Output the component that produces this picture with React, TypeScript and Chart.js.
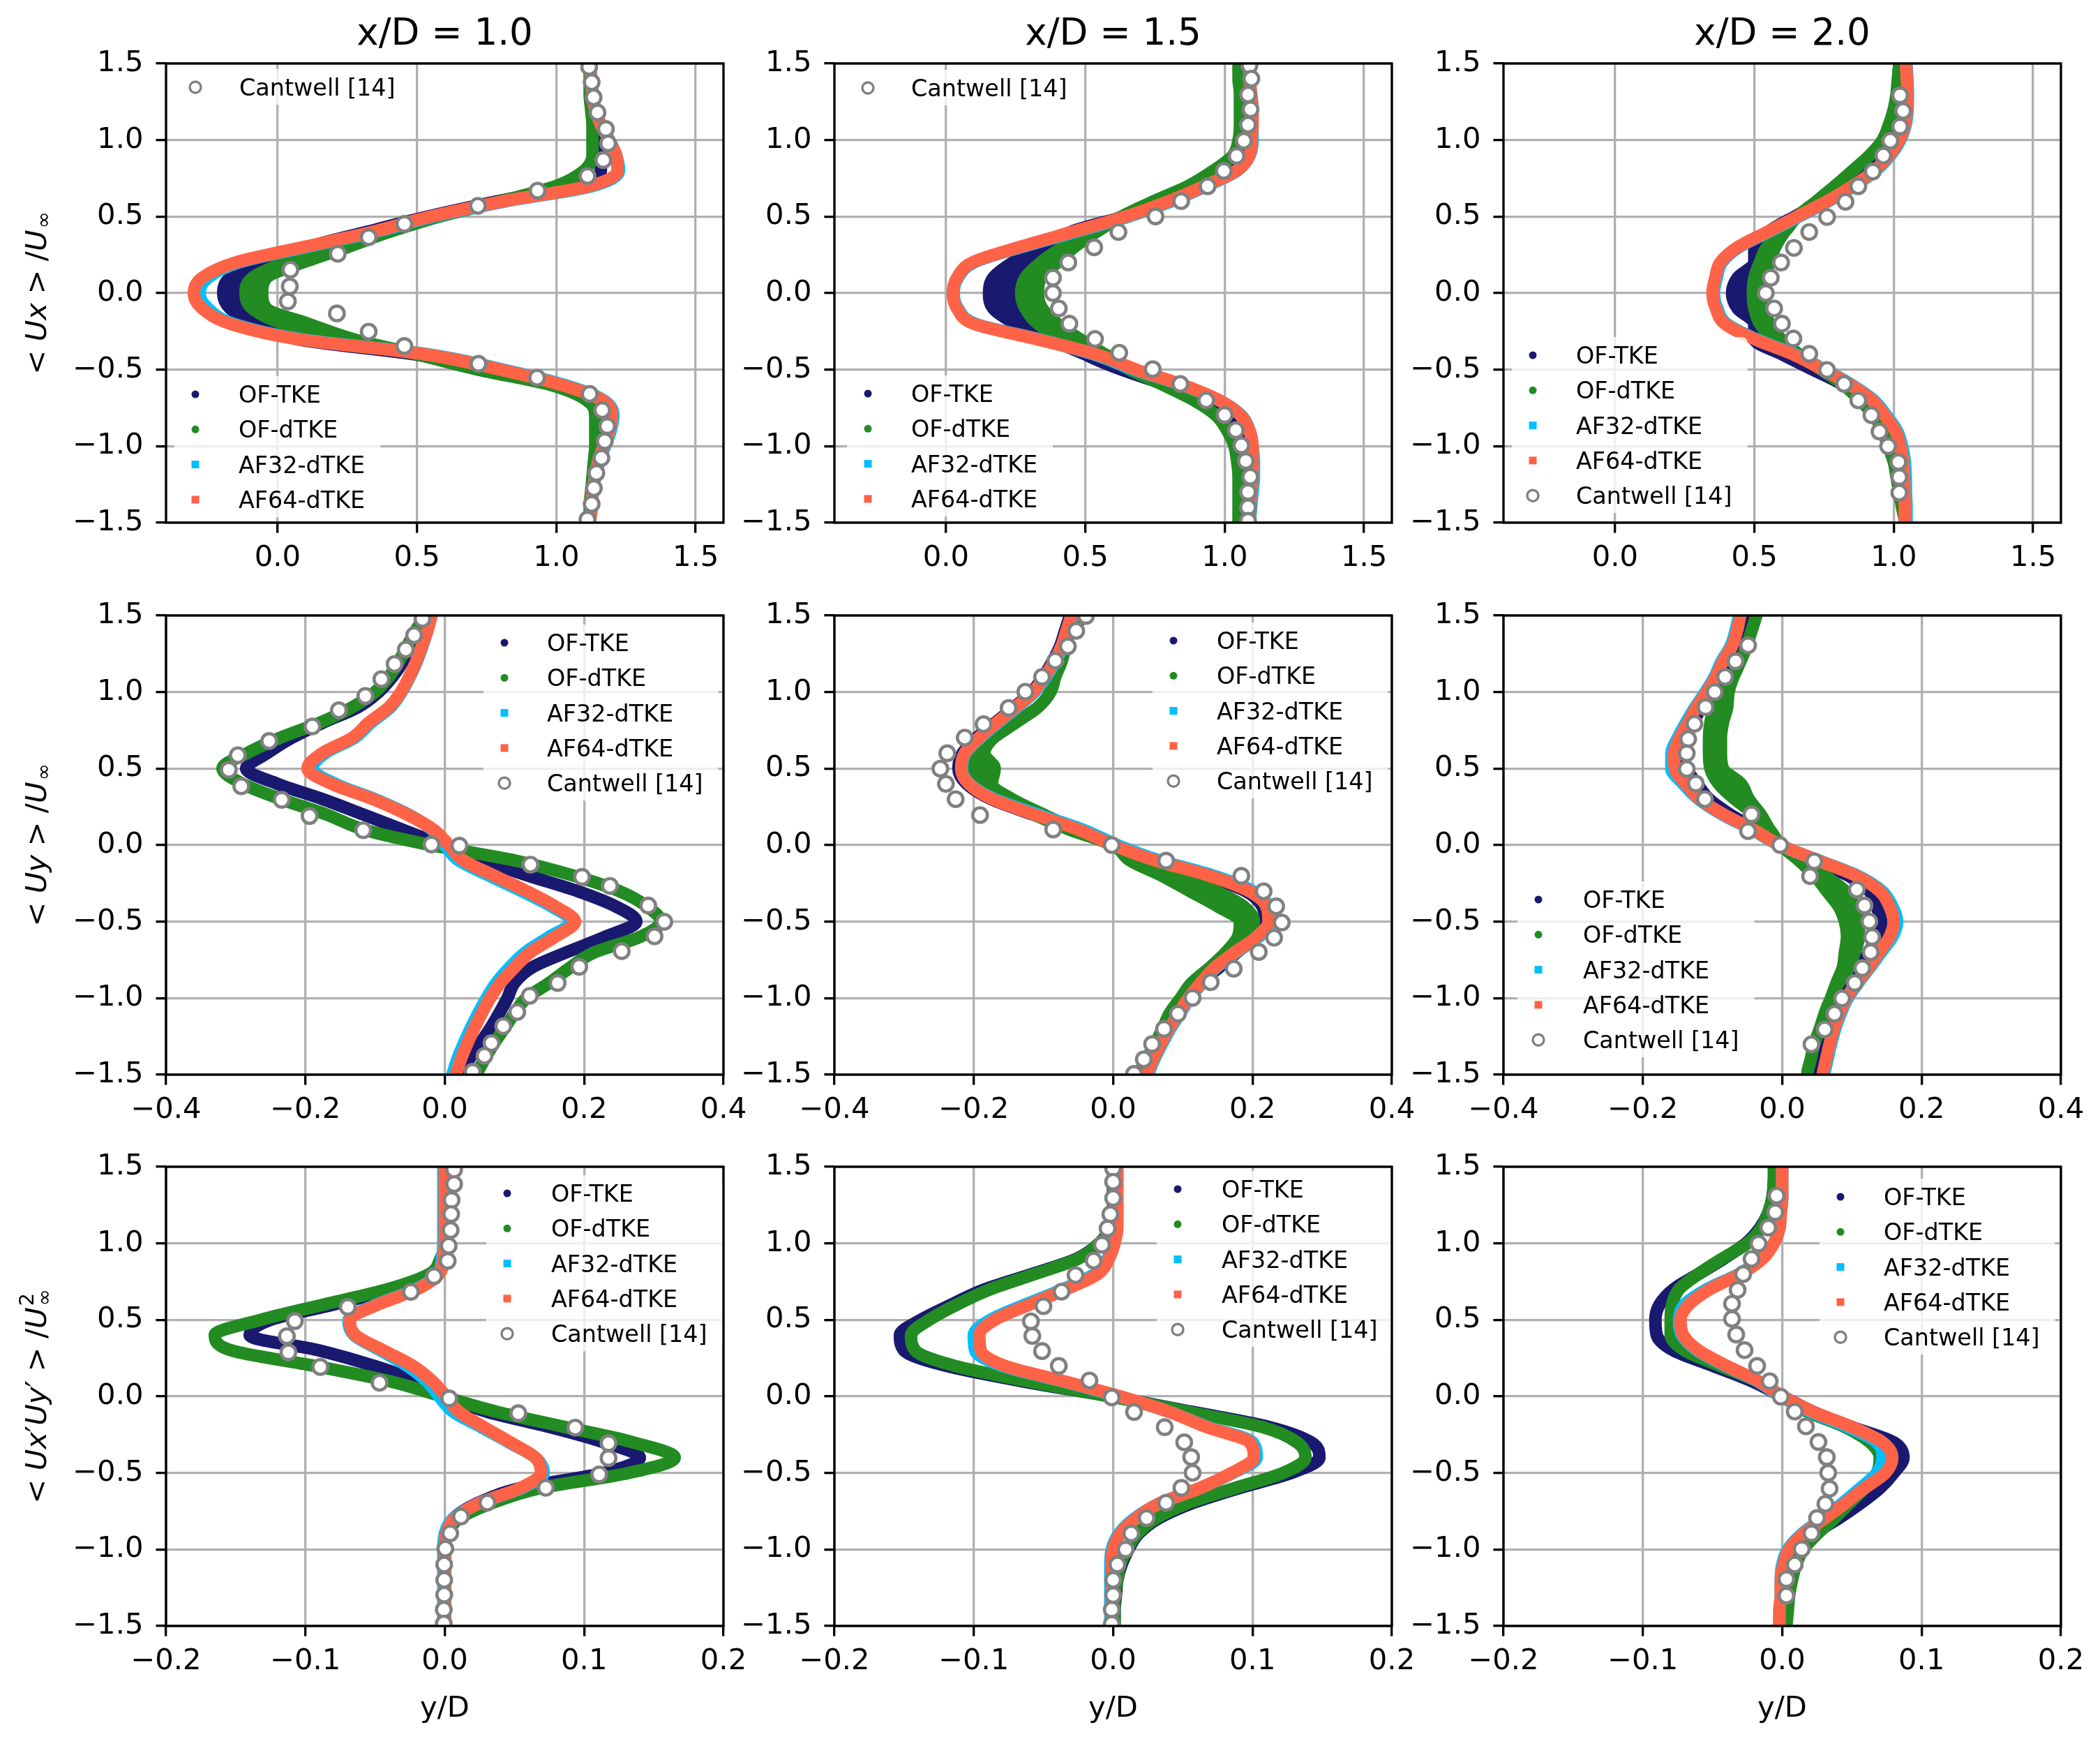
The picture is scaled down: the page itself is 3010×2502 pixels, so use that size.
import React, { useEffect, useRef } from 'react';
import { Chart, registerables } from 'chart.js';

Chart.register(...registerables);

// ---------------- data ----------------
const Y = [1.5, 1.4, 1.3, 1.2, 1.1, 1.0, 0.9, 0.8, 0.7, 0.6, 0.5, 0.4, 0.3, 0.2, 0.1, 0, -0.1, -0.2, -0.3, -0.4, -0.5, -0.6, -0.7, -0.8, -0.9, -1.0, -1.1, -1.2, -1.3, -1.4, -1.5];

const Y_TICKS = [-1.5, -1.0, -0.5, 0.0, 0.5, 1.0, 1.5];
const X_TICKS_UX = [0.0, 0.5, 1.0, 1.5];
const X_TICKS_UY = [-0.4, -0.2, 0.0, 0.2, 0.4];
const X_TICKS_UU = [-0.2, -0.1, 0.0, 0.1, 0.2];
const COL_TITLES = ['x/D = 1.0', 'x/D = 1.5', 'x/D = 2.0'];
const SERIES_LABELS = { tke: 'OF-TKE', dtke: 'OF-dTKE', af32: 'AF32-dTKE', af64: 'AF64-dTKE', cw: 'Cantwell [14]' };

// <Ux>/U, x/D = 1.0
const UX10_TKE = [1.12, 1.125, 1.13, 1.135, 1.14, 1.15, 1.16, 1.16, 1.06, 0.79, 0.54, 0.32, 0.11, -0.06, -0.17, -0.195, -0.17, -0.08, 0.07, 0.49, 0.76, 1.00, 1.13, 1.16, 1.16, 1.155, 1.15, 1.14, 1.13, 1.125, 1.12];
const UX10_TKE_HI = [null, null, null, null, null, null, null, null, null, null, null, null, null, 0.0, -0.10, -0.12, -0.10, -0.01, null, null, null, null, null, null, null, null, null, null, null, null, null];
const UX10_DTKE = [1.12, 1.12, 1.12, 1.125, 1.13, 1.13, 1.13, 1.10, 1.00, 0.80, 0.58, 0.40, 0.22, 0.03, -0.09, -0.115, -0.09, 0.02, 0.24, 0.50, 0.72, 0.98, 1.11, 1.14, 1.14, 1.14, 1.135, 1.13, 1.125, 1.12, 1.12];
const UX10_DTKE_HI = [null, null, null, null, null, null, null, null, null, null, null, null, 0.25, 0.09, -0.04, -0.055, -0.04, 0.11, 0.27, null, null, null, null, null, null, null, null, null, null, null, null];
const UX10_AF32 = [1.12, 1.125, 1.13, 1.14, 1.16, 1.19, 1.215, 1.225, 1.13, 0.82, 0.56, 0.35, 0.10, -0.14, -0.25, -0.28, -0.25, -0.16, 0.08, 0.54, 0.81, 1.03, 1.17, 1.205, 1.195, 1.175, 1.155, 1.14, 1.13, 1.127, 1.12];
const UX10_AF64 = [1.12, 1.125, 1.13, 1.14, 1.16, 1.19, 1.215, 1.22, 1.12, 0.81, 0.55, 0.34, 0.09, -0.15, -0.27, -0.30, -0.27, -0.17, 0.07, 0.53, 0.80, 1.02, 1.165, 1.20, 1.19, 1.17, 1.15, 1.14, 1.13, 1.127, 1.12];
const UX10_CW_X = [1.118, 1.127, 1.134, 1.148, 1.178, 1.186, 1.169, 1.112, 0.933, 0.719, 0.455, 0.327, 0.216, 0.046, 0.044, 0.037, 0.213, 0.327, 0.455, 0.721, 0.931, 1.120, 1.165, 1.183, 1.174, 1.162, 1.144, 1.135, 1.127, 1.112];
const UX10_CW_Y = [1.477, 1.378, 1.279, 1.180, 1.072, 0.978, 0.869, 0.765, 0.669, 0.570, 0.452, 0.365, 0.257, 0.153, 0.044, -0.054, -0.133, -0.252, -0.346, -0.462, -0.553, -0.659, -0.765, -0.869, -0.968, -1.077, -1.175, -1.274, -1.378, -1.479];

// <Ux>/U, x/D = 1.5
const UX15_TKE = [1.065, 1.065, 1.065, 1.065, 1.065, 1.06, 1.04, 0.98, 0.89, 0.78, 0.64, 0.45, 0.34, 0.24, 0.17, 0.155, 0.17, 0.25, 0.37, 0.50, 0.63, 0.79, 0.92, 1.00, 1.04, 1.06, 1.065, 1.065, 1.065, 1.065, 1.065];
const UX15_TKE_HI = [null, null, null, null, null, null, null, null, null, null, null, null, 0.40, 0.32, 0.27, 0.26, 0.27, 0.33, 0.42, null, null, null, null, null, null, null, null, null, null, null, null];
const UX15_DTKE = [1.05, 1.05, 1.055, 1.055, 1.055, 1.05, 1.03, 0.96, 0.87, 0.745, 0.63, 0.52, 0.42, 0.34, 0.285, 0.27, 0.285, 0.33, 0.42, 0.57, 0.66, 0.78, 0.89, 0.97, 1.01, 1.035, 1.045, 1.05, 1.05, 1.05, 1.05];
const UX15_DTKE_HI = [null, null, null, null, null, null, null, null, null, null, null, 0.54, 0.46, 0.40, 0.34, 0.33, 0.345, 0.40, 0.48, null, null, null, null, null, null, null, null, null, null, null, null];
const UX15_AF32 = [1.09, 1.09, 1.095, 1.10, 1.10, 1.10, 1.09, 1.045, 0.935, 0.81, 0.655, 0.465, 0.27, 0.10, 0.043, 0.028, 0.043, 0.105, 0.33, 0.53, 0.675, 0.845, 0.98, 1.06, 1.09, 1.10, 1.105, 1.105, 1.10, 1.095, 1.09];
const UX15_AF64 = [1.09, 1.09, 1.095, 1.10, 1.10, 1.096, 1.089, 1.043, 0.928, 0.80, 0.645, 0.454, 0.263, 0.095, 0.04, 0.025, 0.04, 0.10, 0.324, 0.54, 0.683, 0.85, 0.98, 1.058, 1.089, 1.10, 1.10, 1.10, 1.095, 1.09, 1.09];
const UX15_CW_X = [1.089, 1.096, 1.084, 1.093, 1.084, 1.069, 1.043, 0.997, 0.939, 0.844, 0.752, 0.619, 0.532, 0.439, 0.384, 0.384, 0.405, 0.443, 0.535, 0.622, 0.742, 0.841, 0.934, 1.000, 1.040, 1.060, 1.076, 1.092, 1.084, 1.084, 1.084];
const UX15_CW_Y = [1.487, 1.401, 1.297, 1.200, 1.100, 0.995, 0.896, 0.798, 0.698, 0.601, 0.501, 0.399, 0.299, 0.200, 0.100, 0.000, -0.100, -0.200, -0.300, -0.390, -0.497, -0.594, -0.701, -0.796, -0.896, -0.995, -1.097, -1.200, -1.300, -1.400, -1.488];

// <Ux>/U, x/D = 2.0
const UX20_TKE = [1.04, 1.04, 1.04, 1.035, 1.025, 1.0, 0.965, 0.91, 0.84, 0.75, 0.645, 0.55, 0.50, 0.50, 0.44, 0.42, 0.44, 0.50, 0.50, 0.60, 0.71, 0.82, 0.90, 0.95, 0.99, 1.01, 1.025, 1.03, 1.035, 1.04, 1.04];
const UX20_TKE_HI = [null, null, null, null, null, null, null, null, null, null, null, null, null, 0.54, 0.49, 0.47, 0.49, 0.54, null, null, null, null, null, null, null, null, null, null, null, null, null];
const UX20_DTKE = [1.02, 1.015, 1.01, 1.0, 0.983, 0.96, 0.914, 0.853, 0.79, 0.723, 0.654, 0.608, 0.545, 0.52, 0.50, 0.495, 0.50, 0.52, 0.57, 0.66, 0.74, 0.82, 0.88, 0.93, 0.96, 0.98, 1.0, 1.01, 1.02, 1.03, 1.04];
const UX20_DTKE_HI = [null, null, null, null, null, null, null, null, null, null, null, null, 0.575, 0.555, 0.535, 0.53, 0.535, 0.555, 0.595, null, null, null, null, null, null, null, null, null, null, null, null];
const UX20_AF32 = [1.046, 1.049, 1.051, 1.05, 1.043, 1.024, 0.988, 0.935, 0.858, 0.766, 0.66, 0.552, 0.445, 0.383, 0.365, 0.355, 0.367, 0.40, 0.505, 0.645, 0.752, 0.85, 0.928, 0.974, 1.012, 1.03, 1.04, 1.043, 1.044, 1.046, 1.046];
const UX20_AF64 = [1.044, 1.047, 1.049, 1.047, 1.04, 1.02, 0.983, 0.93, 0.853, 0.761, 0.654, 0.547, 0.44, 0.378, 0.36, 0.35, 0.362, 0.394, 0.50, 0.639, 0.746, 0.845, 0.922, 0.968, 1.006, 1.024, 1.034, 1.037, 1.038, 1.04, 1.04];
const UX20_CW_X = [1.023, 1.034, 1.023, 0.988, 0.963, 0.925, 0.873, 0.827, 0.761, 0.697, 0.642, 0.596, 0.559, 0.541, 0.571, 0.599, 0.640, 0.697, 0.761, 0.822, 0.873, 0.920, 0.949, 0.980, 1.017, 1.020, 1.020];
const UX20_CW_Y = [1.292, 1.190, 1.088, 0.995, 0.898, 0.794, 0.698, 0.596, 0.497, 0.399, 0.295, 0.200, 0.100, 0.000, -0.100, -0.200, -0.297, -0.397, -0.503, -0.594, -0.701, -0.798, -0.905, -1.000, -1.104, -1.202, -1.304];

// <Uy>/U, x/D = 1.0
const UY10_TKE = [-0.03, -0.04, -0.05, -0.06, -0.075, -0.095, -0.125, -0.175, -0.22, -0.255, -0.285, -0.24, -0.175, -0.117, -0.06, -0.004, 0.055, 0.12, 0.19, 0.245, 0.275, 0.23, 0.175, 0.125, 0.10, 0.09, 0.078, 0.065, 0.05, 0.035, 0.025];
const UY10_DTKE = [-0.028, -0.042, -0.054, -0.066, -0.08, -0.10, -0.133, -0.179, -0.237, -0.284, -0.319, -0.29, -0.235, -0.17, -0.115, -0.02, 0.10, 0.185, 0.25, 0.29, 0.31, 0.28, 0.215, 0.18, 0.15, 0.117, 0.10, 0.085, 0.07, 0.057, 0.045];
const UY10_AF32 = [-0.019, -0.025, -0.032, -0.040, -0.050, -0.062, -0.078, -0.106, -0.130, -0.172, -0.190, -0.157, -0.100, -0.052, -0.018, 0.0, 0.02, 0.064, 0.11, 0.153, 0.182, 0.150, 0.116, 0.093, 0.074, 0.060, 0.048, 0.037, 0.027, 0.018, 0.011];
const UY10_AF64 = [-0.019, -0.025, -0.033, -0.041, -0.051, -0.063, -0.080, -0.109, -0.133, -0.176, -0.197, -0.162, -0.103, -0.054, -0.016, 0.006, 0.027, 0.071, 0.117, 0.158, 0.187, 0.158, 0.123, 0.10, 0.08, 0.065, 0.053, 0.042, 0.032, 0.023, 0.016];
const UY10_CW_X = [-0.032, -0.044, -0.056, -0.072, -0.091, -0.114, -0.152, -0.190, -0.252, -0.297, -0.310, -0.292, -0.234, -0.194, -0.117, -0.019, 0.021, 0.123, 0.197, 0.237, 0.292, 0.315, 0.301, 0.254, 0.193, 0.162, 0.122, 0.104, 0.084, 0.067, 0.057, 0.040];
const UY10_CW_Y = [1.477, 1.371, 1.278, 1.183, 1.084, 0.974, 0.881, 0.775, 0.680, 0.587, 0.492, 0.384, 0.296, 0.190, 0.097, 0.004, -0.004, -0.128, -0.208, -0.267, -0.395, -0.501, -0.596, -0.693, -0.795, -0.901, -0.985, -1.091, -1.183, -1.294, -1.377, -1.481];

// <Uy>/U, x/D = 1.5
const UY15_TKE = [-0.062, -0.069, -0.076, -0.087, -0.100, -0.117, -0.142, -0.169, -0.196, -0.216, -0.222, -0.21, -0.175, -0.115, -0.05, 0.0, 0.058, 0.132, 0.19, 0.214, 0.218, 0.203, 0.178, 0.152, 0.124, 0.107, 0.093, 0.080, 0.068, 0.057, 0.048];
const UY15_DTKE = [-0.04, -0.061, -0.068, -0.074, -0.083, -0.09, -0.108, -0.14, -0.172, -0.194, -0.20, -0.189, -0.16, -0.114, -0.062, 0.0, 0.024, 0.07, 0.11, 0.15, 0.182, 0.179, 0.162, 0.139, 0.113, 0.097, 0.081, 0.071, 0.06, 0.048, 0.038];
const UY15_DTKE_HI = [null, null, null, null, null, null, null, null, null, -0.185, -0.17, -0.174, -0.145, -0.10, -0.054, null, 0.044, 0.096, 0.147, 0.187, 0.202, 0.193, 0.17, 0.142, null, null, null, null, null, null, null];
const UY15_AF32 = [-0.058, -0.065, -0.072, -0.083, -0.096, -0.113, -0.138, -0.165, -0.191, -0.212, -0.217, -0.206, -0.170, -0.108, -0.043, 0.006, 0.066, 0.144, 0.20, 0.223, 0.226, 0.209, 0.177, 0.148, 0.128, 0.110, 0.096, 0.082, 0.070, 0.059, 0.050];
const UY15_AF64 = [-0.060, -0.067, -0.074, -0.085, -0.098, -0.115, -0.140, -0.167, -0.193, -0.213, -0.218, -0.207, -0.173, -0.113, -0.049, 0.0, 0.06, 0.138, 0.195, 0.22, 0.223, 0.206, 0.175, 0.146, 0.126, 0.108, 0.094, 0.080, 0.068, 0.057, 0.048];
const UY15_CW_X = [-0.039, -0.053, -0.065, -0.083, -0.102, -0.126, -0.150, -0.186, -0.213, -0.238, -0.248, -0.240, -0.226, -0.191, -0.086, -0.002, 0.076, 0.184, 0.216, 0.234, 0.242, 0.231, 0.209, 0.173, 0.140, 0.114, 0.093, 0.073, 0.056, 0.044, 0.030];
const UY15_CW_Y = [1.497, 1.400, 1.298, 1.205, 1.099, 1.002, 0.896, 0.790, 0.702, 0.600, 0.499, 0.400, 0.300, 0.196, 0.102, 0.000, -0.102, -0.201, -0.302, -0.400, -0.506, -0.605, -0.698, -0.808, -0.896, -0.998, -1.102, -1.201, -1.300, -1.400, -1.495];

// <Uy>/U, x/D = 2.0
const UY20_TKE = [-0.055, -0.06, -0.066, -0.078, -0.09, -0.102, -0.116, -0.128, -0.138, -0.142, -0.138, -0.122, -0.105, -0.075, -0.037, -0.003, 0.045, 0.095, 0.125, 0.135, 0.142, 0.136, 0.124, 0.11, 0.096, 0.084, 0.075, 0.068, 0.062, 0.057, 0.053];
const UY20_DTKE = [-0.037, -0.044, -0.051, -0.06, -0.07, -0.082, -0.097, -0.103, -0.105, -0.105, -0.103, -0.091, -0.068, -0.039, -0.018, -0.002, 0.024, 0.047, 0.064, 0.081, 0.09, 0.093, 0.09, 0.087, 0.078, 0.07, 0.061, 0.054, 0.046, 0.041, 0.036];
const UY20_DTKE_HI = [null, null, null, null, null, -0.077, -0.079, -0.085, -0.088, -0.088, -0.085, -0.059, -0.048, -0.031, null, null, 0.027, 0.061, 0.09, 0.104, 0.11, 0.11, 0.104, 0.096, 0.081, null, null, null, null, null, null];
const UY20_AF32 = [-0.062, -0.067, -0.074, -0.087, -0.097, -0.110, -0.125, -0.138, -0.150, -0.159, -0.159, -0.142, -0.12, -0.086, -0.043, -0.004, 0.052, 0.108, 0.143, 0.158, 0.165, 0.158, 0.142, 0.126, 0.109, 0.094, 0.084, 0.076, 0.070, 0.065, 0.060];
const UY20_AF64 = [-0.060, -0.065, -0.072, -0.085, -0.095, -0.108, -0.123, -0.135, -0.147, -0.155, -0.154, -0.138, -0.118, -0.084, -0.041, -0.003, 0.051, 0.106, 0.14, 0.154, 0.16, 0.154, 0.139, 0.124, 0.107, 0.092, 0.082, 0.074, 0.068, 0.063, 0.058];
const UY20_CW_X = [-0.049, -0.067, -0.082, -0.097, -0.110, -0.126, -0.135, -0.137, -0.137, -0.124, -0.111, -0.044, -0.049, -0.003, 0.046, 0.040, 0.107, 0.118, 0.125, 0.129, 0.127, 0.115, 0.104, 0.086, 0.075, 0.061, 0.042];
const UY20_CW_Y = [1.305, 1.201, 1.099, 1.000, 0.901, 0.792, 0.693, 0.600, 0.497, 0.402, 0.300, 0.201, 0.091, 0.000, -0.106, -0.203, -0.291, -0.395, -0.499, -0.601, -0.700, -0.804, -0.901, -1.002, -1.102, -1.205, -1.302];

// <Ux'Uy'>/U^2, x/D = 1.0
const UU10_TKE = [0.0, 0.0, 0.0, 0.0, 0.0, 0.0, -0.002, -0.009, -0.037, -0.08, -0.125, -0.14, -0.09, -0.051, -0.02, 0.001, 0.03, 0.075, 0.114, 0.14, 0.114, 0.054, 0.023, 0.006, 0.001, 0.0, 0.0, 0.0, 0.0, 0.0, 0.0];
const UU10_DTKE = [0.0, 0.0, 0.0, 0.0, 0.0, 0.0, -0.003, -0.011, -0.041, -0.087, -0.132, -0.165, -0.153, -0.094, -0.04, -0.002, 0.037, 0.086, 0.135, 0.165, 0.132, 0.068, 0.033, 0.010, 0.002, 0.0, 0.0, 0.0, 0.0, 0.0, 0.0];
const UU10_AF32 = [-0.001, -0.001, -0.001, -0.001, -0.001, -0.001, -0.002, -0.005, -0.021, -0.049, -0.069, -0.065, -0.046, -0.027, -0.013, -0.004, 0.006, 0.026, 0.046, 0.065, 0.071, 0.055, 0.024, 0.006, 0.0, -0.001, -0.001, -0.001, -0.001, -0.001, -0.001];
const UU10_AF64 = [0.0, 0.0, 0.0, 0.0, 0.0, 0.0, -0.001, -0.004, -0.02, -0.048, -0.068, -0.064, -0.044, -0.023, -0.009, 0.001, 0.01, 0.028, 0.047, 0.065, 0.069, 0.054, 0.024, 0.007, 0.001, 0.0, 0.0, 0.0, 0.0, 0.0, 0.0];
const UU10_CW_X = [0.0067, 0.0067, 0.0049, 0.0046, 0.0042, 0.0028, 0.0021, -0.0077, -0.0243, -0.0696, -0.1076, -0.1133, -0.1122, -0.0893, -0.0468, 0.0032, 0.0528, 0.0936, 0.1175, 0.1175, 0.1108, 0.0725, 0.0306, 0.0116, 0.0039, 0.0004, -0.0004, -0.0004, -0.0004, -0.0007, -0.0007];
const UU10_CW_Y = [1.482, 1.387, 1.283, 1.191, 1.086, 0.984, 0.885, 0.785, 0.683, 0.584, 0.492, 0.393, 0.288, 0.192, 0.089, -0.013, -0.110, -0.204, -0.306, -0.403, -0.510, -0.597, -0.694, -0.785, -0.895, -0.995, -1.099, -1.199, -1.296, -1.393, -1.484];

// <Ux'Uy'>/U^2, x/D = 1.5
const UU15_TKE = [0.0, 0.0, 0.0, 0.0, -0.002, -0.010, -0.026, -0.058, -0.092, -0.116, -0.138, -0.153, -0.15, -0.12, -0.066, -0.002, 0.056, 0.112, 0.142, 0.148, 0.128, 0.09, 0.056, 0.032, 0.018, 0.011, 0.006, 0.003, 0.002, 0.001, 0.001];
const UU15_DTKE = [0.0, 0.0, 0.0, 0.0, -0.002, -0.01, -0.025, -0.056, -0.088, -0.112, -0.132, -0.145, -0.142, -0.114, -0.062, -0.002, 0.053, 0.107, 0.132, 0.138, 0.122, 0.087, 0.053, 0.03, 0.017, 0.01, 0.005, 0.003, 0.001, 0.001, 0.001];
const UU15_AF32 = [0.002, 0.002, 0.002, 0.002, 0.002, 0.0, -0.004, -0.013, -0.036, -0.063, -0.088, -0.10, -0.099, -0.08, -0.037, 0.004, 0.04, 0.068, 0.10, 0.103, 0.086, 0.062, 0.033, 0.015, 0.004, -0.001, -0.002, -0.002, -0.002, -0.002, -0.002];
const UU15_AF64 = [0.003, 0.003, 0.003, 0.003, 0.003, 0.001, -0.003, -0.011, -0.034, -0.06, -0.085, -0.096, -0.095, -0.078, -0.036, 0.005, 0.04, 0.067, 0.098, 0.101, 0.085, 0.062, 0.033, 0.016, 0.005, 0.0, -0.001, -0.001, -0.001, -0.001, -0.001];
const UU15_CW_X = [0.0, 0.0, 0.0, -0.002, -0.004, -0.008, -0.014, -0.027, -0.037, -0.050, -0.059, -0.058, -0.051, -0.039, -0.017, -0.001, 0.015, 0.037, 0.051, 0.056, 0.057, 0.049, 0.038, 0.024, 0.013, 0.009, 0.003, 0.0, 0.0, -0.001, -0.001];
const UU15_CW_Y = [1.490, 1.402, 1.296, 1.190, 1.097, 0.991, 0.887, 0.792, 0.684, 0.589, 0.490, 0.395, 0.296, 0.199, 0.104, -0.007, -0.102, -0.201, -0.300, -0.397, -0.499, -0.598, -0.695, -0.795, -0.896, -1.000, -1.099, -1.199, -1.298, -1.393, -1.486];

// <Ux'Uy'>/U^2, x/D = 2.0
const UU20_TKE = [-0.005, -0.006, -0.007, -0.01, -0.016, -0.026, -0.042, -0.06, -0.078, -0.088, -0.091, -0.09, -0.078, -0.05, -0.022, 0.0, 0.022, 0.05, 0.08, 0.087, 0.08, 0.07, 0.056, 0.04, 0.022, 0.01, 0.004, 0.001, 0.001, 0.001, 0.001];
const UU20_DTKE = [-0.006, -0.006, -0.007, -0.01, -0.015, -0.025, -0.043, -0.06, -0.074, -0.079, -0.08, -0.08, -0.07, -0.045, -0.018, 0.0, 0.018, 0.045, 0.063, 0.07, 0.068, 0.059, 0.048, 0.037, 0.025, 0.015, 0.01, 0.007, 0.005, 0.004, 0.003];
const UU20_AF32 = [0.0, 0.0, 0.0, -0.001, -0.002, -0.006, -0.015, -0.031, -0.054, -0.07, -0.074, -0.072, -0.061, -0.041, -0.018, -0.001, 0.02, 0.047, 0.068, 0.072, 0.068, 0.056, 0.043, 0.029, 0.014, 0.004, 0.0, -0.001, -0.001, -0.002, -0.002];
const UU20_AF64 = [0.0, 0.0, 0.0, -0.001, -0.002, -0.006, -0.014, -0.03, -0.052, -0.067, -0.073, -0.071, -0.06, -0.04, -0.017, 0.0, 0.022, 0.05, 0.072, 0.079, 0.074, 0.059, 0.045, 0.03, 0.015, 0.005, 0.001, -0.001, -0.001, -0.002, -0.002];
const UU20_CW_X = [-0.004, -0.005, -0.010, -0.017, -0.022, -0.028, -0.032, -0.036, -0.036, -0.033, -0.027, -0.018, -0.009, -0.001, 0.009, 0.017, 0.026, 0.032, 0.033, 0.034, 0.031, 0.025, 0.021, 0.014, 0.009, 0.003, 0.003];
const UU20_CW_Y = [1.311, 1.203, 1.102, 0.998, 0.898, 0.799, 0.695, 0.605, 0.506, 0.404, 0.302, 0.199, 0.099, -0.002, -0.099, -0.196, -0.298, -0.397, -0.499, -0.603, -0.702, -0.795, -0.894, -0.998, -1.099, -1.194, -1.302];

// ---------------- styling / layout ----------------
const FONT = '"DejaVu Sans"';
const COLORS = { tke: '#191970', dtke: '#228B22', af32: '#00BFFF', af64: '#FF6347', cw: '#808080' };
const BAND_W = 18;
const AX_L = [238, 1196, 2155];
const AX_T = [91, 882, 1672];
const PAD_L = 238, PAD_T = 91, PAD_R = 60, PAD_B = 160;
const PLOT_W = 799, PLOT_H = 658;
const CANVAS_W = PAD_L + PLOT_W + PAD_R;
const CANVAS_H = PAD_T + PLOT_H + PAD_B;
const TICK_FONT = 41.7;
const LEG_FONT = 33.4;
const LEG_SP = 50.3;

type Key = 'tke' | 'dtke' | 'af32' | 'af64' | 'cw';
type Band = { lo: number[]; hi?: (number | null)[] };
type LegendSpec = { mx: number; tx: number; fy: number; items: Key[] };
type Panel = {
  row: number; col: number; xMin: number; xMax: number; xTicks: number[];
  bands: Record<'tke' | 'dtke' | 'af32' | 'af64', Band>;
  cwX: number[]; cwY: number[]; legends: LegendSpec[];
};

const SIMS: Key[] = ['tke', 'dtke', 'af32', 'af64'];
const ALL: Key[] = ['tke', 'dtke', 'af32', 'af64', 'cw'];

const PANELS: Panel[] = [
  { row: 0, col: 0, xMin: -0.4, xMax: 1.6, xTicks: X_TICKS_UX,
    bands: { tke: { lo: UX10_TKE, hi: UX10_TKE_HI }, dtke: { lo: UX10_DTKE, hi: UX10_DTKE_HI }, af32: { lo: UX10_AF32 }, af64: { lo: UX10_AF64 } },
    cwX: UX10_CW_X, cwY: UX10_CW_Y,
    legends: [{ mx: 42, tx: 105, fy: 34, items: ['cw'] }, { mx: 42, tx: 104, fy: 474, items: SIMS }] },
  { row: 0, col: 1, xMin: -0.4, xMax: 1.6, xTicks: X_TICKS_UX,
    bands: { tke: { lo: UX15_TKE, hi: UX15_TKE_HI }, dtke: { lo: UX15_DTKE, hi: UX15_DTKE_HI }, af32: { lo: UX15_AF32 }, af64: { lo: UX15_AF64 } },
    cwX: UX15_CW_X, cwY: UX15_CW_Y,
    legends: [{ mx: 48, tx: 110, fy: 35, items: ['cw'] }, { mx: 48, tx: 110, fy: 473, items: SIMS }] },
  { row: 0, col: 2, xMin: -0.4, xMax: 1.6, xTicks: X_TICKS_UX,
    bands: { tke: { lo: UX20_TKE, hi: UX20_TKE_HI }, dtke: { lo: UX20_DTKE, hi: UX20_DTKE_HI }, af32: { lo: UX20_AF32 }, af64: { lo: UX20_AF64 } },
    cwX: UX20_CW_X, cwY: UX20_CW_Y,
    legends: [{ mx: 42, tx: 104, fy: 418, items: ALL }] },
  { row: 1, col: 0, xMin: -0.4, xMax: 0.4, xTicks: X_TICKS_UY,
    bands: { tke: { lo: UY10_TKE }, dtke: { lo: UY10_DTKE }, af32: { lo: UY10_AF32 }, af64: { lo: UY10_AF64 } },
    cwX: UY10_CW_X, cwY: UY10_CW_Y,
    legends: [{ mx: 485, tx: 546, fy: 39, items: ALL }] },
  { row: 1, col: 1, xMin: -0.4, xMax: 0.4, xTicks: X_TICKS_UY,
    bands: { tke: { lo: UY15_TKE }, dtke: { lo: UY15_DTKE, hi: UY15_DTKE_HI }, af32: { lo: UY15_AF32 }, af64: { lo: UY15_AF64 } },
    cwX: UY15_CW_X, cwY: UY15_CW_Y,
    legends: [{ mx: 486, tx: 548, fy: 36, items: ALL }] },
  { row: 1, col: 2, xMin: -0.4, xMax: 0.4, xTicks: X_TICKS_UY,
    bands: { tke: { lo: UY20_TKE }, dtke: { lo: UY20_DTKE, hi: UY20_DTKE_HI }, af32: { lo: UY20_AF32 }, af64: { lo: UY20_AF64 } },
    cwX: UY20_CW_X, cwY: UY20_CW_Y,
    legends: [{ mx: 50, tx: 114, fy: 407, items: ALL }] },
  { row: 2, col: 0, xMin: -0.2, xMax: 0.2, xTicks: X_TICKS_UU,
    bands: { tke: { lo: UU10_TKE }, dtke: { lo: UU10_DTKE }, af32: { lo: UU10_AF32 }, af64: { lo: UU10_AF64 } },
    cwX: UU10_CW_X, cwY: UU10_CW_Y,
    legends: [{ mx: 489, tx: 552, fy: 38, items: ALL }] },
  { row: 2, col: 1, xMin: -0.2, xMax: 0.2, xTicks: X_TICKS_UU,
    bands: { tke: { lo: UU15_TKE }, dtke: { lo: UU15_DTKE }, af32: { lo: UU15_AF32 }, af64: { lo: UU15_AF64 } },
    cwX: UU15_CW_X, cwY: UU15_CW_Y,
    legends: [{ mx: 492, tx: 555, fy: 32, items: ALL }] },
  { row: 2, col: 2, xMin: -0.2, xMax: 0.2, xTicks: X_TICKS_UU,
    bands: { tke: { lo: UU20_TKE }, dtke: { lo: UU20_DTKE }, af32: { lo: UU20_AF32 }, af64: { lo: UU20_AF64 } },
    cwX: UU20_CW_X, cwY: UU20_CW_Y,
    legends: [{ mx: 483, tx: 545, fy: 43, items: ALL }] },
];

type Seg = { t: string; i?: boolean };
type Scr = { t: string; dy: number };
const YLABELS: { parts: Seg[]; script: Scr[] }[] = [
  { parts: [{ t: '<' }, { t: ' ' }, { t: 'Ux', i: true }, { t: ' ' }, { t: '>' }, { t: ' ' }, { t: '/' }, { t: 'U', i: true }], script: [{ t: '\u221e', dy: 6 }] },
  { parts: [{ t: '<' }, { t: ' ' }, { t: 'Uy', i: true }, { t: ' ' }, { t: '>' }, { t: ' ' }, { t: '/' }, { t: 'U', i: true }], script: [{ t: '\u221e', dy: 6 }] },
  { parts: [{ t: '<' }, { t: ' ' }, { t: 'Ux', i: true }, { t: '\u2032' }, { t: 'Uy', i: true }, { t: '\u2032' }, { t: ' ' }, { t: '>' }, { t: ' ' }, { t: '/' }, { t: 'U', i: true }], script: [{ t: '2', dy: -18 }, { t: '\u221e', dy: 7 }] },
];

const fmt = (v: number) => (Math.abs(v) < 1e-9 ? 0 : v).toFixed(1).replace('-', '\u2212');

function bandPoints(b: Band) {
  const pts = b.lo.map((x, i) => ({ x, y: Y[i] }));
  if (!b.hi) return { pts, filled: false };
  const back: { x: number; y: number }[] = [];
  for (let i = Y.length - 1; i >= 0; i--) {
    const h = b.hi[i];
    back.push({ x: h == null ? b.lo[i] : h, y: Y[i] });
  }
  return { pts: pts.concat(back), filled: true };
}

function drawLegend(ctx: CanvasRenderingContext2D, a: any, l: LegendSpec) {
  ctx.save();
  ctx.font = `${LEG_FONT}px ${FONT}`;
  const tw = Math.max(...l.items.map((k) => ctx.measureText(SERIES_LABELS[k]).width));
  const n = l.items.length;
  const x0 = a.left + l.mx - 30;
  const x1 = a.left + l.tx + tw + 22;
  const y0 = a.top + l.fy - 26;
  const y1 = a.top + l.fy + (n - 1) * LEG_SP + 25;
  ctx.fillStyle = 'rgba(255,255,255,0.8)';
  ctx.beginPath();
  if ((ctx as any).roundRect) (ctx as any).roundRect(x0, y0, x1 - x0, y1 - y0, 8);
  else ctx.rect(x0, y0, x1 - x0, y1 - y0);
  ctx.fill();
  l.items.forEach((k, i) => {
    const y = a.top + l.fy + i * LEG_SP;
    const mx = a.left + l.mx;
    if (k === 'cw') {
      ctx.beginPath();
      ctx.arc(mx, y, 8, 0, Math.PI * 2);
      ctx.fillStyle = '#fff';
      ctx.fill();
      ctx.lineWidth = 3.4;
      ctx.strokeStyle = COLORS.cw;
      ctx.stroke();
    } else if (k === 'tke' || k === 'dtke') {
      ctx.beginPath();
      ctx.arc(mx, y, 5.5, 0, Math.PI * 2);
      ctx.fillStyle = COLORS[k];
      ctx.fill();
    } else {
      ctx.fillStyle = COLORS[k];
      ctx.fillRect(mx - 5.5, y - 5.5, 11, 11);
    }
    ctx.fillStyle = '#000';
    ctx.textAlign = 'left';
    ctx.textBaseline = 'alphabetic';
    ctx.fillText(SERIES_LABELS[k], a.left + l.tx, y + 12);
  });
  ctx.restore();
}

function drawMathLabel(ctx: CanvasRenderingContext2D, x: number, cy: number, parts: Seg[], script: Scr[]) {
  ctx.save();
  ctx.translate(x, cy);
  ctx.rotate(-Math.PI / 2);
  const s = TICK_FONT;
  const fN = `${s}px ${FONT}`;
  const fI = `italic ${s}px ${FONT}`;
  const fS = `${s * 0.7}px ${FONT}`;
  const widths = parts.map((p) => {
    ctx.font = p.i ? fI : fN;
    return p.t === ' ' ? s * 0.3 : ctx.measureText(p.t).width;
  });
  ctx.font = fS;
  const sw = Math.max(...script.map((q) => ctx.measureText(q.t).width));
  const total = widths.reduce((u, v) => u + v, 0) + sw + 2;
  let cx = -total / 2;
  ctx.fillStyle = '#000';
  ctx.textAlign = 'left';
  ctx.textBaseline = 'alphabetic';
  parts.forEach((p, k) => {
    ctx.font = p.i ? fI : fN;
    if (p.t !== ' ') ctx.fillText(p.t, cx, 0);
    cx += widths[k];
  });
  ctx.font = fS;
  script.forEach((q) => ctx.fillText(q.t, cx + 2, q.dy));
  ctx.restore();
}

function makePlugin(p: Panel) {
  return {
    id: `deco${p.row}${p.col}`,
    afterDatasetsDraw(chart: any) {
      const ctx: CanvasRenderingContext2D = chart.ctx;
      const a = chart.chartArea;
      p.legends.forEach((l) => drawLegend(ctx, a, l));
      ctx.save();
      ctx.strokeStyle = '#000';
      ctx.lineWidth = 3.33;
      ctx.strokeRect(a.left, a.top, a.right - a.left, a.bottom - a.top);
      ctx.restore();
    },
    afterDraw(chart: any) {
      const ctx: CanvasRenderingContext2D = chart.ctx;
      const a = chart.chartArea;
      const cx = (a.left + a.right) / 2;
      ctx.save();
      ctx.fillStyle = '#000';
      ctx.textAlign = 'center';
      ctx.textBaseline = 'alphabetic';
      if (p.row === 0) {
        ctx.font = `53px ${FONT}`;
        ctx.fillText(COL_TITLES[p.col], cx, a.top - 27);
      }
      if (p.row === 2) {
        ctx.font = `${TICK_FONT}px ${FONT}`;
        ctx.fillText('y/D', cx, a.bottom + 130);
      }
      ctx.restore();
      if (p.col === 0) {
        const lab = YLABELS[p.row];
        drawMathLabel(ctx, 66, (a.top + a.bottom) / 2, lab.parts, lab.script);
      }
    },
  };
}

function buildConfig(p: Panel): any {
  const order: Record<string, number> = { tke: 5, dtke: 4, af32: 3, af64: 2 };
  const datasets: any[] = SIMS.map((k) => {
    const { pts, filled } = bandPoints(p.bands[k as 'tke']);
    return {
      label: SERIES_LABELS[k],
      data: pts,
      showLine: true,
      borderColor: COLORS[k],
      backgroundColor: COLORS[k],
      borderWidth: BAND_W,
      borderJoinStyle: 'round',
      borderCapStyle: 'round',
      pointRadius: 0,
      pointHoverRadius: 0,
      fill: filled ? 'shape' : false,
      cubicInterpolationMode: 'monotone',
      clip: 0,
      order: order[k],
    };
  });
  datasets.push({
    label: SERIES_LABELS.cw,
    data: p.cwX.map((x, i) => ({ x, y: p.cwY[i] })),
    showLine: false,
    fill: false,
    pointStyle: 'circle',
    pointRadius: 10.5,
    pointBorderWidth: 4.6,
    pointBorderColor: COLORS.cw,
    pointBackgroundColor: '#ffffff',
    clip: 0,
    order: 1,
  });
  const grid = { color: '#b0b0b0', lineWidth: 3.33, tickColor: '#000', tickWidth: 3.33, tickLength: 14.6, drawTicks: true };
  const tickFont = { family: 'DejaVu Sans', size: TICK_FONT };
  return {
    type: 'line',
    data: { datasets },
    plugins: [makePlugin(p)],
    options: {
      animation: false,
      responsive: false,
      maintainAspectRatio: false,
      devicePixelRatio: 1,
      indexAxis: 'y',
      events: [],
      layout: { padding: { left: 0, top: PAD_T, right: PAD_R, bottom: 0 } },
      plugins: { legend: { display: false }, tooltip: { enabled: false }, title: { display: false } },
      scales: {
        x: {
          type: 'linear', position: 'bottom', min: p.xMin, max: p.xMax,
          afterBuildTicks: (s: any) => { s.ticks = p.xTicks.map((v) => ({ value: v })); },
          afterFit: (s: any) => { s.height = PAD_B; },
          ticks: { callback: (v: number) => fmt(v), font: tickFont, color: '#000', padding: 12, maxRotation: 0, minRotation: 0, autoSkip: false },
          grid, border: { display: false },
        },
        y: {
          type: 'linear', position: 'left', min: -1.5, max: 1.5,
          afterBuildTicks: (s: any) => { s.ticks = Y_TICKS.map((v) => ({ value: v })); },
          afterFit: (s: any) => { s.width = PAD_L; },
          ticks: { callback: (v: number) => fmt(v), font: tickFont, color: '#000', padding: 18, autoSkip: false },
          grid, border: { display: false },
        },
      },
    },
  };
}

function PanelChart({ p }: { p: Panel }) {
  const ref = useRef<HTMLCanvasElement>(null);
  useEffect(() => {
    if (!ref.current) return;
    const chart = new Chart(ref.current, buildConfig(p));
    return () => chart.destroy();
  }, [p]);
  return (
    <canvas
      ref={ref}
      width={CANVAS_W}
      height={CANVAS_H}
      style={{ position: 'absolute', left: AX_L[p.col] - PAD_L, top: AX_T[p.row] - PAD_T, width: CANVAS_W, height: CANVAS_H, display: 'block' }}
    />
  );
}

export default function App() {
  useEffect(() => {
    document.body.style.margin = '0';
    document.body.style.background = '#fff';
  }, []);
  return (
    <div style={{ position: 'fixed', left: 0, top: 0, width: 3010, height: 2502, overflow: 'hidden', background: '#fff' }}>
      {PANELS.map((p) => (
        <PanelChart key={`${p.row}-${p.col}`} p={p} />
      ))}
    </div>
  );
}
